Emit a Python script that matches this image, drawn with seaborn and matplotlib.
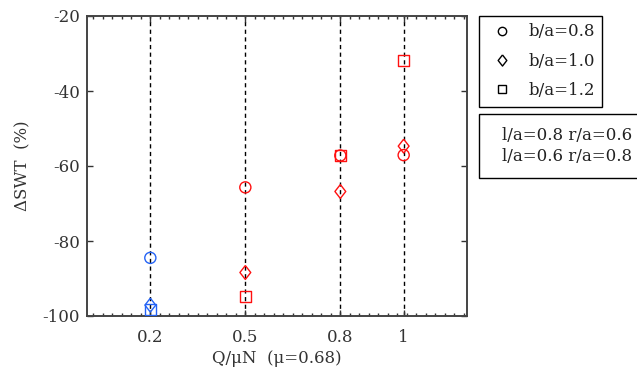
import numpy as np
import pandas as pd
import matplotlib
matplotlib.use("Agg")
import matplotlib.pyplot as plt
import seaborn as sns
from matplotlib.lines import Line2D
from matplotlib.ticker import FixedLocator

# ---- data ----
q_values = [0.2, 0.2, 0.2, 0.5, 0.5, 0.5, 0.8, 0.8, 0.8, 1.0, 1.0, 1.0]
shape_labels = ["b/a=0.8", "b/a=1.0", "b/a=1.2"] * 4
swt_values = [-84.5, -97.1, -98.2,
              -65.7, -88.4, -94.8,
              -57.2, -66.8, -57.1,
              -57.1, -54.7, -31.8]
groups = ["l/a=0.8 r/a=0.6"] * 3 + ["l/a=0.6 r/a=0.8"] * 9
group_order = ["l/a=0.8 r/a=0.6", "l/a=0.6 r/a=0.8"]
group_colors = {"l/a=0.8 r/a=0.6": "#2463f5", "l/a=0.6 r/a=0.8": "#ff1010"}
shape_order = ["b/a=0.8", "b/a=1.0", "b/a=1.2"]
x_ticks = [0.2, 0.5, 0.8, 1.0]
x_tick_labels = ["0.2", "0.5", "0.8", "1"]
y_ticks = [-100, -80, -60, -40, -20]
y_tick_labels = ["-100", "-80", "-60", "-40", "-20"]

df = pd.DataFrame({"Q": q_values, "SWT": swt_values,
                   "shape": shape_labels, "group": groups})

diamond = [(0, 1), (0.78, 0), (0, -1), (-0.78, 0), (0, 1)]
marker_map = {"b/a=0.8": "o", "b/a=1.0": diamond, "b/a=1.2": "s"}
size_map = {"b/a=0.8": 64, "b/a=1.0": 100, "b/a=1.2": 64}

sns.set_style("ticks")
plt.rcParams["font.family"] = ["DejaVu Serif"]
FS = 12
TXT = "#333333"

W, H = 637, 371
fig = plt.figure(figsize=(W / 100, H / 100), dpi=100)
ax = fig.add_axes([87 / W, 1 - 316 / H, (467 - 87) / W, (316 - 16) / H])

for g in group_order:
    sub = df[df["group"] == g]
    sns.scatterplot(data=sub, x="Q", y="SWT", style="shape", size="shape",
                    markers=marker_map, sizes=size_map,
                    style_order=shape_order, size_order=shape_order,
                    color=group_colors[g], facecolor="none",
                    edgecolor=group_colors[g], linewidth=1.0,
                    legend=False, ax=ax, zorder=3)

ax.set_xlim(0.0, 1.2)
ax.set_ylim(-100, -20)
ax.set_xticks(x_ticks)
ax.set_xticklabels(x_tick_labels)
ax.set_yticks(y_ticks)
ax.set_yticklabels(y_tick_labels)
ax.xaxis.set_minor_locator(FixedLocator(np.arange(0.02, 1.2, 0.03)))

ax.grid(axis="x", which="major", color="black", linestyle=(0, (3, 2.5)),
        linewidth=1.0)
ax.grid(axis="y", visible=False)

ax.tick_params(axis="both", which="major", direction="in", length=4,
               top=True, right=True, labelsize=FS, colors=TXT,
               width=1.0)
ax.tick_params(axis="x", which="major", pad=9)
ax.tick_params(axis="y", which="major", pad=5)
ax.tick_params(axis="x", which="minor", direction="in", length=2,
               top=True, bottom=True, width=1.0, color=TXT)
for sp in ax.spines.values():
    sp.set_color("#444444")
    sp.set_linewidth(1.4)

ax.set_xlabel("Q/\u03bcN  (\u03bc=0.68)", fontsize=FS, color=TXT,
              labelpad=3)
ax.set_ylabel("\u0394SWT  (%)", fontsize=FS, color=TXT, labelpad=8)

# legend 1: marker shapes
h1 = [Line2D([], [], marker="o", color="black", markerfacecolor="none",
             linestyle="none", markersize=6, markeredgewidth=1.0),
      Line2D([], [], marker=diamond, color="black", markerfacecolor="none",
             linestyle="none", markersize=8, markeredgewidth=1.0),
      Line2D([], [], marker="s", color="black", markerfacecolor="none",
             linestyle="none", markersize=6, markeredgewidth=1.0)]
leg1 = fig.legend(h1, shape_order, loc="upper left",
                  bbox_to_anchor=(479 / W, 1 - 16 / H),
                  bbox_transform=fig.transFigure, borderaxespad=0,
                  fancybox=False, edgecolor="black", framealpha=1,
                  fontsize=FS, labelspacing=0.74, handlelength=1.9,
                  handletextpad=0.6, borderpad=0.45)
leg1.get_frame().set_linewidth(1.0)
for t in leg1.get_texts():
    t.set_color("#222222")

# legend 2: parameter sets (text only)
h2 = [Line2D([], [], linestyle="none") for _ in group_order]
leg2 = fig.legend(h2, group_order, loc="upper left",
                  bbox_to_anchor=(479 / W, 1 - 114 / H),
                  bbox_transform=fig.transFigure, borderaxespad=0,
                  fancybox=False, edgecolor="black", framealpha=1,
                  fontsize=FS, labelspacing=0.2, handlelength=0,
                  handletextpad=0.6, borderpad=0.8)
leg2.get_frame().set_linewidth(1.0)
for t in leg2.get_texts():
    t.set_color("#222222")

fig.savefig("out.png", dpi=100)
